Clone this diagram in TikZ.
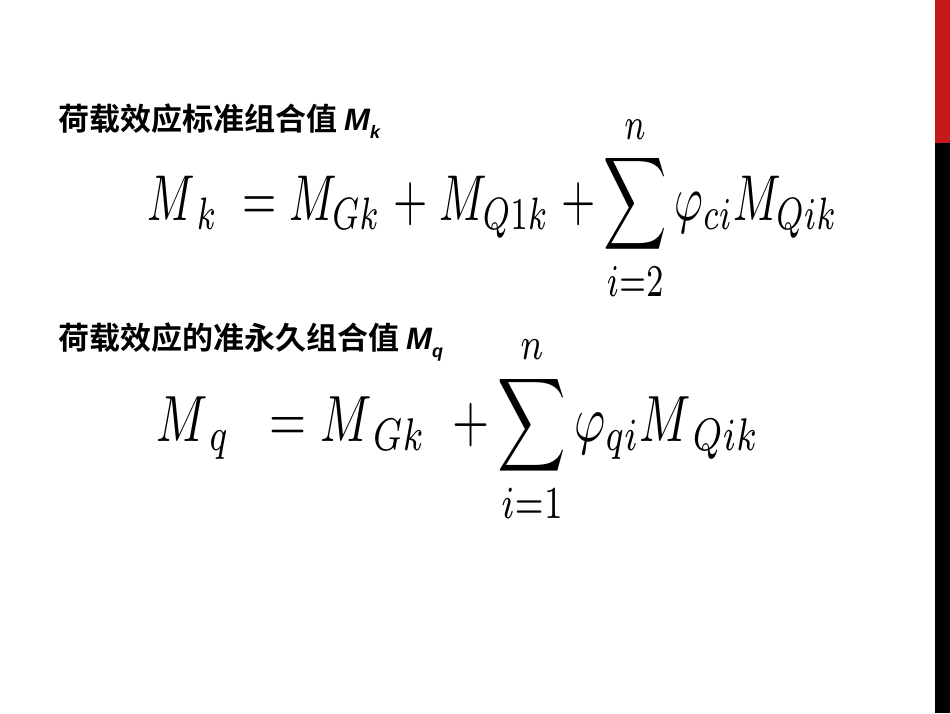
\documentclass[tikz,border=0pt]{standalone}
\usepackage{fontspec}
\newfontfamily\cjk{Noto Sans CJK SC}[BoldFont={* Bold}]
\newfontfamily\hsans{Liberation Sans}
\begin{document}
\begin{tikzpicture}[x=1pt,y=-1pt,
  head/.style={anchor=west,inner sep=0pt,font=\cjk\bfseries\fontsize{31}{36}\selectfont},
  eq/.style={anchor=center,inner sep=0pt}]
\useasboundingbox (0,0) rectangle (950,713);
\fill[white] (0,0) rectangle (950,713);
\fill[red!75!black!90] (935,0) rectangle (950,143);
\fill[black] (935,143) rectangle (950,713);
\node[head] (h1) at (58,121) {荷载效应标准组合值 {\hsans\bfseries\itshape M\raisebox{-0.25em}{\fontsize{18}{20}\selectfont k}}};
\node[head] (h2) at (58,342) {荷载效应的准永久组合值 {\hsans\bfseries\itshape M\raisebox{-0.25em}{\fontsize{18}{20}\selectfont q}}};
\node[eq] (e1) at (493,208) {\resizebox{690pt}{107pt}{$\displaystyle M_{\,k}\;=M_{Gk}\;\mathbf{+}\;M_{Q1k}\;\mathbf{+}\sum_{i=2}^{n}\varphi_{ci}M_{Qik}$}};
\node[eq] (e2) at (458,429) {\resizebox{603pt}{108pt}{$\displaystyle M_{\,q}\;\;=M_{\,Gk}\;\;\mathbf{+}\sum_{i=1}^{n}\varphi_{qi}M_{\,Qik}$}};
\end{tikzpicture}
\end{document}
